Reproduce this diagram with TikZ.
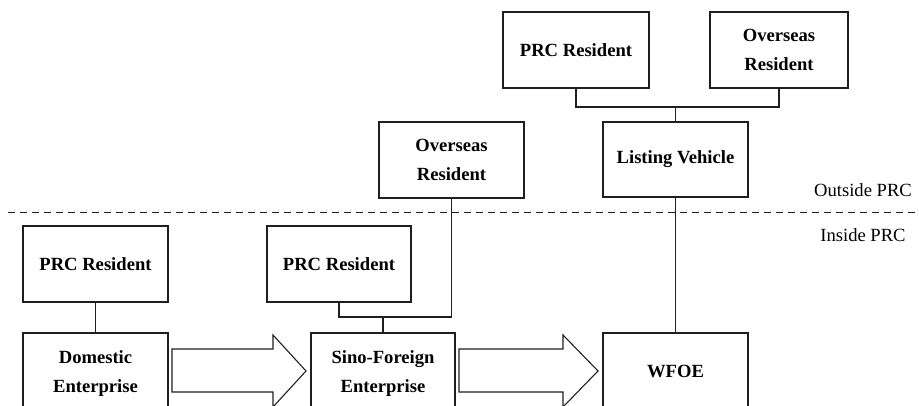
\documentclass[tikz,border=0pt]{standalone}
\usepackage{fontspec}
\setmainfont{Liberation Serif}
\begin{document}
\begin{tikzpicture}[x=1pt,y=-1pt,
  ln/.style={draw=black!88,line width=1.1pt},
  box/.style={ln,rectangle,inner sep=0pt,align=center,
    font=\fontsize{18.6}{29}\selectfont\bfseries},
  zone/.style={inner sep=0pt,font=\fontsize{18.6}{22}\selectfont}]
\useasboundingbox (0,0) rectangle (919,406);
\clip (0,0) rectangle (919,406);
% boxes
\node[box,minimum width=145pt,minimum height=76pt] (prcA) at (95.5,264) {PRC Resident};
\node[box,minimum width=145pt,minimum height=81pt] (dom) at (95.5,373.5) {Domestic\\Enterprise};
\node[box,minimum width=144pt,minimum height=76pt] (prcB) at (339,264) {PRC Resident};
\node[box,minimum width=144pt,minimum height=81pt] (sino) at (383,373.5) {Sino-Foreign\\Enterprise};
\node[box,minimum width=145pt,minimum height=76pt] (ovsA) at (451.5,160) {Overseas\\Resident};
\node[box,minimum width=145pt,minimum height=75pt] (lv) at (675.5,159.5) {Listing Vehicle};
\node[box,minimum width=146pt,minimum height=76pt] (prcC) at (576,50) {PRC Resident};
\node[box,minimum width=138pt,minimum height=76pt] (ovsB) at (779,50) {Overseas\\Resident};
\node[box,minimum width=145pt,minimum height=76pt] (wfoe) at (675.5,371) {WFOE};
% zone labels and boundary
\node[zone] (out) at (863,190) {Outside PRC};
\node[zone] (in) at (863,235) {Inside PRC};
\draw[black!88,line width=1pt,dash pattern=on 7pt off 5pt] (8,213) -- (919,213);
% connectors
\coordinate (jB) at (383,317);
\coordinate (jC) at (675.5,107);
\draw[ln] (prcA.south) -- (dom.north);
\draw[ln] (prcB.south) |- (jB) -| (ovsA.south);
\draw[ln] (jB) -- (sino.north);
\draw[ln] (prcC.south) |- (jC) -| (ovsB.south);
\draw[ln] (jC) -- (lv.north);
\draw[ln] (lv.south) -- (wfoe.north);
% block arrows
\draw[ln,line join=miter] (172,349) -- (273,349) -- (273,335) -- (306,371) -- (273,407) -- (273,392) -- (172,392) -- cycle;
\draw[ln,line join=miter] (459,349) -- (563,349) -- (563,335) -- (598,371) -- (563,407) -- (563,392) -- (459,392) -- cycle;
\end{tikzpicture}
\end{document}
